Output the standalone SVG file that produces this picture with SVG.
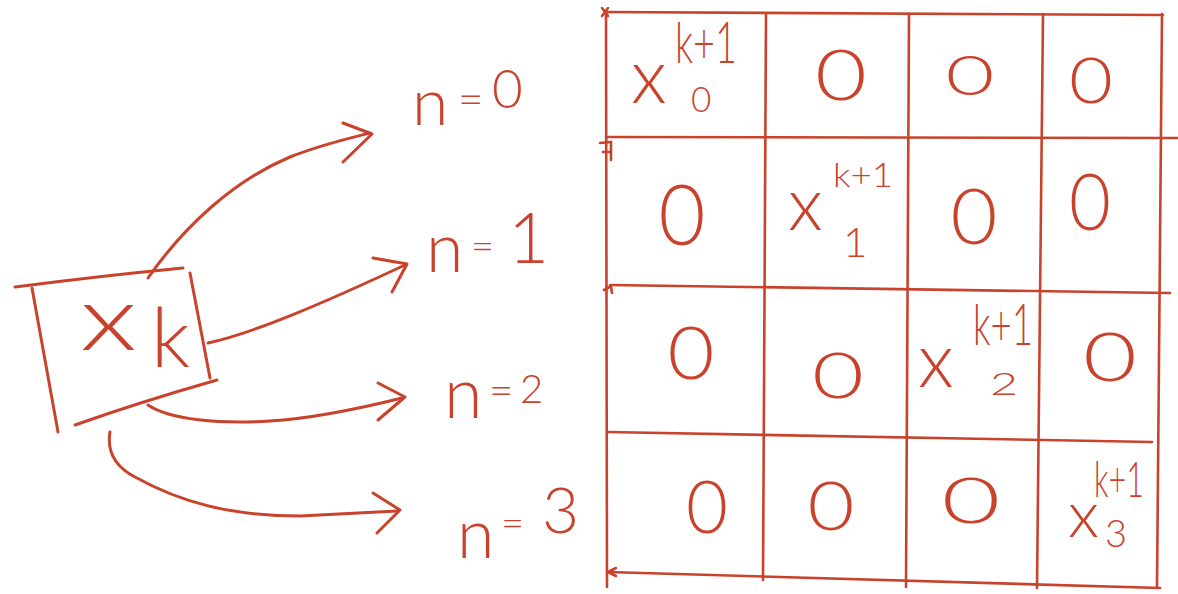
<svg xmlns="http://www.w3.org/2000/svg" width="1178" height="594" viewBox="0 0 1178 594">
<style>
.ln{stroke:#c9432c;stroke-width:3;fill:none;stroke-linecap:round;stroke-linejoin:round}
.gl{stroke:#c9432c;stroke-width:2.6;fill:none;stroke-linecap:round}
.t{fill:#c9432c;font-family:Lato,"Open Sans","Liberation Sans",sans-serif;font-weight:300}
.z{fill:#c9432c;font-family:Lato,"Open Sans","Liberation Sans",sans-serif;font-weight:300;text-anchor:middle}
</style>
<rect width="1178" height="594" fill="#ffffff"/>

<g id="node-xk">
  <path class="ln" d="M15,287 Q100,276 183,268"/>
  <path class="ln" d="M32,288 L58,432"/>
  <path class="ln" d="M190,273 L210,378"/>
  <path class="ln" d="M217,380 Q140,402 75,425"/>
  <text class="t" x="80" y="350" font-size="90" textLength="57" lengthAdjust="spacingAndGlyphs">x</text>
  <text class="t" x="151" y="367" font-size="82">k</text>
</g>

<g id="connectors">
  <path class="ln" d="M148,278 C185,225 235,180 290,157 C320,145 350,138 370,133"/>
  <path class="ln" d="M343,123 L372,134 L343,162"/>
  <path class="ln" d="M208,343 C255,333 330,300 405,265"/>
  <path class="ln" d="M373,258 L407,264 L392,292"/>
  <path class="ln" d="M148,405 C170,420 220,424 270,421 C320,418 370,406 402,398"/>
  <path class="ln" d="M378,383 L405,397 L378,420"/>
  <path class="ln" d="M110,432 C107,450 114,466 135,477 C180,502 230,516 300,516 L397,511"/>
  <path class="ln" d="M373,493 L400,510 L377,533"/>
</g>

<g id="label-n0"><text class="t"><tspan x="412" y="125" font-size="66">n</tspan><tspan x="458" y="115" font-size="44">=</tspan><tspan x="492" y="108" font-size="53">0</tspan></text></g>
<g id="label-n1"><text class="t"><tspan x="426" y="272" font-size="68">n</tspan><tspan x="471" y="260" font-size="40">=</tspan><tspan x="508" y="263" font-size="71">1</tspan></text></g>
<g id="label-n2"><text class="t"><tspan x="444" y="418" font-size="70">n</tspan><tspan x="489" y="405" font-size="42">=</tspan><tspan x="520" y="403" font-size="40">2</tspan></text></g>
<g id="label-n3"><text class="t"><tspan x="457" y="558" font-size="68">n</tspan><tspan x="501" y="537" font-size="40">=</tspan><tspan x="542" y="533" font-size="64">3</tspan></text></g>

<g id="matrix">
  <path class="gl" d="M606,12 L1163,15"/>
  <path class="gl" d="M606,12 L607,587"/>
  <path class="gl" d="M1162,14 L1157,588"/>
  <path class="gl" d="M766,14 L763,580"/>
  <path class="gl" d="M909,14 L906,587"/>
  <path class="gl" d="M1043,14 L1037,588"/>
  <path class="gl" d="M606,137 L1178,138"/>
  <path class="gl" d="M610,285 L1170,293"/>
  <path class="gl" d="M607,432 L1152,442"/>
  <path class="gl" d="M607,572 L1160,588"/>
  <path class="gl" d="M600,143 L611,142 L611,160 M603,152 L609,152" stroke-width="1.6"/>
  <path class="gl" d="M604,290 L611,286 L612,293" stroke-width="1.6"/>
  <path class="gl" d="M608,572 L616,568 M608,572 L616,576" stroke-width="1.6"/>
  <path class="gl" d="M602,8 L608,16 M608,8 L602,16" stroke-width="1.4"/>
</g>

<g id="cell-0-0">
  <text class="t" x="631" y="103" font-size="76">x</text>
  <text class="t" x="675" y="63" font-size="58" textLength="62" lengthAdjust="spacingAndGlyphs">k+1</text>
  <text class="t" x="691" y="112" font-size="35">0</text>
</g>
<g id="cell-1-1">
  <text class="t" x="788" y="230" font-size="74">x</text>
  <text class="t" x="833" y="187" font-size="34" textLength="60" lengthAdjust="spacingAndGlyphs">k+1</text>
  <text class="t" x="843" y="257" font-size="42" font-weight="700">1</text>
</g>
<g id="cell-2-2">
  <text class="t" x="918" y="387" font-size="76">x</text>
  <text class="t" x="973" y="345" font-size="58" textLength="60" lengthAdjust="spacingAndGlyphs">k+1</text>
  <text class="t" x="990" y="395" font-size="31" textLength="28" lengthAdjust="spacingAndGlyphs">2</text>
</g>
<g id="cell-3-3">
  <text class="t" x="1068" y="537" font-size="66">x</text>
  <text class="t" x="1094" y="497" font-size="50" textLength="50" lengthAdjust="spacingAndGlyphs">k+1</text>
  <text class="t" x="1105" y="547" font-size="38">3</text>
</g>

<g id="zeros">
  <text class="z" x="841" y="100" font-size="70" textLength="52" lengthAdjust="spacingAndGlyphs">0</text>
  <text class="z" x="970" y="95" font-size="56" textLength="49" lengthAdjust="spacingAndGlyphs">0</text>
  <text class="z" x="1091" y="103" font-size="64" textLength="44" lengthAdjust="spacingAndGlyphs">0</text>
  <text class="z" x="682" y="245" font-size="84" textLength="47" lengthAdjust="spacingAndGlyphs">0</text>
  <text class="z" x="974" y="244" font-size="76" textLength="47" lengthAdjust="spacingAndGlyphs">0</text>
  <text class="z" x="1090" y="230" font-size="78" textLength="42" lengthAdjust="spacingAndGlyphs">0</text>
  <text class="z" x="691" y="379" font-size="72" textLength="47" lengthAdjust="spacingAndGlyphs">0</text>
  <text class="z" x="838" y="398" font-size="64" textLength="52" lengthAdjust="spacingAndGlyphs">0</text>
  <text class="z" x="1110" y="381" font-size="67" textLength="54" lengthAdjust="spacingAndGlyphs">0</text>
  <text class="z" x="707" y="533" font-size="72" textLength="42" lengthAdjust="spacingAndGlyphs">0</text>
  <text class="z" x="831" y="530" font-size="67" textLength="47" lengthAdjust="spacingAndGlyphs">0</text>
  <text class="z" x="971" y="523" font-size="64" textLength="59" lengthAdjust="spacingAndGlyphs">0</text>
</g>
</svg>
